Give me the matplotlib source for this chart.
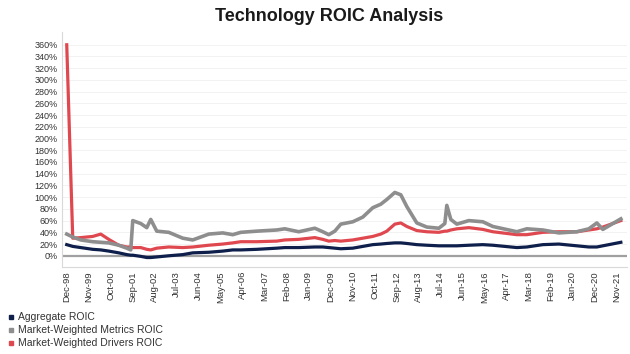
import matplotlib.pyplot as plt
from matplotlib.lines import Line2D

# month offsets counted from Dec-98
months = [0, 3, 7, 13, 17, 21, 26, 30, 32, 33, 37, 40, 42, 45, 51, 58, 63, 71, 78, 83,
          87, 95, 105, 109, 116, 124, 128, 131, 134, 137, 143, 148, 153, 157, 160, 164,
          167, 170, 175, 180, 186, 189, 190, 192, 195, 201, 208, 213, 225, 230, 238,
          246, 255, 261, 265, 268, 277]

aggregate = [19, 16, 14, 11, 10, 8, 5, 2, 1, 1, -1, -3, -3, -2, 0, 2, 5, 6, 8, 10,
             10, 11, 13, 14, 14, 15, 15, 14, 13, 12, 13, 16, 19, 20, 21, 22,
             22, 21, 19, 18, 17, 17, 17, 17, 17, 18, 19, 18, 14, 15, 19,
             20, 17, 15, 15, 17, 23]

metrics = [37, 32, 27, 24, 23, 22, 18, 13, 10, 60, 55, 48, 62, 42, 40, 30, 27, 37, 39, 36,
           40, 42, 44, 46, 41, 47, 41, 36, 42, 54, 58, 66, 82, 88, 96, 108,
           104, 84, 56, 49, 47, 55, 86, 62, 54, 60, 58, 50, 41, 46, 44,
           39, 41, 46, 56, 45, 63]

drivers = [360, 30, 31, 33, 37, 28, 18, 15, 15, 14, 14, 11, 10, 13, 15, 14, 15, 18, 20, 22,
           24, 24, 25, 27, 28, 31, 28, 25, 26, 25, 27, 30, 33, 37, 42, 54,
           56, 50, 43, 41, 40, 42, 42, 44, 46, 48, 45, 41, 36, 36, 40,
           41, 41, 44, 46, 49, 60]

tick_labels = ["Dec-98", "Nov-99", "Oct-00", "Sep-01", "Aug-02", "Jul-03", "Jun-04",
               "May-05", "Apr-06", "Mar-07", "Feb-08", "Jan-09", "Dec-09", "Nov-10",
               "Oct-11", "Sep-12", "Aug-13", "Jul-14", "Jun-15", "May-16", "Apr-17",
               "Mar-18", "Feb-19", "Jan-20", "Dec-20", "Nov-21"]

plt.rcParams['font.family'] = ['Liberation Sans', 'DejaVu Sans']

fig = plt.figure(figsize=(6.3, 3.54), dpi=100)
ax = fig.add_axes([0.098, 0.246, 0.897, 0.664])

red = "#E04850"
gray = "#8E8E8E"
navy = "#0E1F4C"

# gridlines and zero line
for v in range(20, 380, 20):
    ax.axhline(v, color="#F0F0F0", lw=0.6, zorder=0)
ax.axhline(0, color="#A0A0A0", lw=1.6, zorder=1)

ax.plot(months, drivers, color=red, lw=2.3, zorder=2)
ax.plot(months, metrics, color=gray, lw=2.6, zorder=3)
ax.plot(months, aggregate, color=navy, lw=2.3, zorder=4)

ax.set_xlim(-2.5, 280)
ax.set_ylim(-19, 382)
ax.set_yticks(range(0, 380, 20))
ax.set_yticklabels([f"{v}%" for v in range(0, 380, 20)], fontsize=6.5, color="#333333")
ax.set_xticks([11 * i for i in range(len(tick_labels))])
ax.set_xticklabels(tick_labels, rotation=90, fontsize=6.8, color="#333333")
ax.tick_params(length=0, pad=3)

for s in ["top", "right"]:
    ax.spines[s].set_visible(False)
for s in ["left", "bottom"]:
    ax.spines[s].set_color("#D9D9D9")
    ax.spines[s].set_linewidth(0.8)

fig.text(0.522, 0.952, "Technology ROIC Analysis", ha="center", va="center",
         fontsize=13, fontweight="bold", color="#1A1A1A")

handles = [
    Line2D([0], [0], color=navy, marker="s", linestyle="", markersize=2.5, label="Aggregate ROIC"),
    Line2D([0], [0], color=gray, marker="s", linestyle="", markersize=2.5, label="Market-Weighted Metrics ROIC"),
    Line2D([0], [0], color=red, marker="s", linestyle="", markersize=2.5, label="Market-Weighted Drivers ROIC"),
]
fig.legend(handles=handles, loc="upper left", bbox_to_anchor=(0.012, 0.118),
           frameon=False, fontsize=7.5, handlelength=0.6, handletextpad=0.4,
           labelspacing=0.3, borderaxespad=0, borderpad=0, labelcolor="#333333")

fig.savefig("out.png", dpi=100)
